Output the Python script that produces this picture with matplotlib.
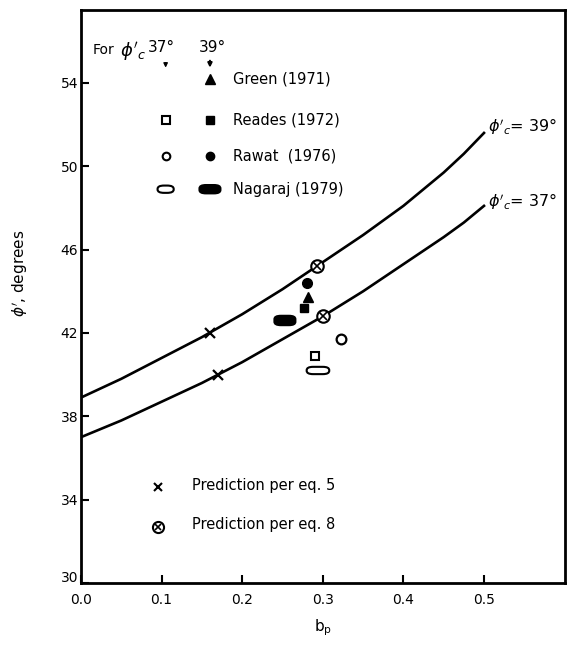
import matplotlib
matplotlib.use("Agg")
import matplotlib.pyplot as plt
import matplotlib.transforms as mtransforms
from matplotlib.patches import FancyBboxPatch

plt.rcParams['font.family'] = ['DejaVu Sans']
plt.rcParams['mathtext.fontset'] = 'dejavusans'

# Curves
b_curve = [0.0, 0.025, 0.05, 0.075, 0.1, 0.125, 0.15, 0.175, 0.2, 0.225, 0.25,
           0.275, 0.3, 0.325, 0.35, 0.375, 0.4, 0.425, 0.45, 0.475, 0.5]
phi_39 = [38.9, 39.35, 39.8, 40.3, 40.8, 41.3, 41.8, 42.35, 42.9, 43.5, 44.1,
          44.75, 45.4, 46.05, 46.7, 47.4, 48.1, 48.9, 49.7, 50.6, 51.6]
phi_37 = [37.0, 37.4, 37.8, 38.25, 38.7, 39.15, 39.6, 40.1, 40.6, 41.15, 41.7,
          42.25, 42.8, 43.4, 44.0, 44.65, 45.3, 45.95, 46.6, 47.3, 48.1]

# Predictions
eq5_b = [0.16, 0.17]
eq5_phi = [42.0, 40.0]
eq8_b = [0.293, 0.300]
eq8_phi = [45.2, 42.8]

# Measured data (phi_c = 39 filled, phi_c = 37 open)
green_39 = (0.282, 43.75)
reades_39 = (0.277, 43.2)
reades_37 = (0.290, 40.9)
rawat_39 = (0.280, 44.4)
rawat_37 = (0.323, 41.7)
nagaraj_39 = (0.253, 42.6)
nagaraj_37 = (0.294, 40.2)

xticks = [0.0, 0.1, 0.2, 0.3, 0.4, 0.5]
xtick_labels = ["0.0", "0.1", "0.2", "0.3", "0.4", "0.5"]
yticks = [30, 34, 38, 42, 46, 50, 54]

fig = plt.figure(figsize=(5.68, 6.46), dpi=100)
ax = fig.add_axes([0.1426, 0.0975, 0.8521, 0.887])
ax.set_xlim(0, 0.6005)
ax.set_ylim(30, 57.5)

lw = 1.9
ax.plot(b_curve, phi_39, color='black', lw=lw, solid_joinstyle='round')
ax.plot(b_curve, phi_37, color='black', lw=lw, solid_joinstyle='round')

ax.plot(eq5_b, eq5_phi, 'x', color='black', ms=7, mew=1.6)
ax.plot(eq8_b, eq8_phi, 'o', mfc='white', mec='black', ms=9, mew=1.5)
ax.plot(eq8_b, eq8_phi, 'x', color='black', ms=6, mew=1.2)

ax.plot(*green_39, '^', color='black', ms=7)
ax.plot(*reades_39, 's', color='black', ms=6)
ax.plot(*reades_37, 's', mfc='white', mec='black', ms=6, mew=1.5)
ax.plot(*rawat_39, 'o', color='black', ms=7)
ax.plot(*rawat_37, 'o', mfc='white', mec='black', ms=7, mew=1.6)

def oval_e(center, w, h, filled, axis):
    e = FancyBboxPatch((center[0] - w / 2, center[1] - h / 2), w, h,
                       boxstyle="round,pad=0,rounding_size=0.008",
                       mutation_aspect=20, transform=axis.transData,
                       facecolor='black' if filled else 'white',
                       edgecolor='black', lw=1.5, zorder=3)
    axis.add_patch(e)

oval_e(nagaraj_39, 0.026, 0.45, True, ax)
oval_e(nagaraj_37, 0.028, 0.35, False, ax)

# Legend block (top-left)
ax.text(0.014, 55.6, "For", fontsize=10, va='center', ha='left')
ax.text(0.048, 55.5, r"$\phi'_c$", fontsize=13, va='center', ha='left')
ax.text(0.100, 55.7, "37°", fontsize=11, va='center', ha='center')
ax.text(0.163, 55.7, "39°", fontsize=11, va='center', ha='center')
ax.annotate("", xy=(0.105, 54.6), xytext=(0.105, 55.1),
            arrowprops=dict(arrowstyle='-|>', color='black', lw=1, mutation_scale=6))
ax.annotate("", xy=(0.160, 54.6), xytext=(0.160, 55.2),
            arrowprops=dict(arrowstyle='-|>', color='black', lw=1.5, mutation_scale=6))

lx37, lx39, ltx = 0.105, 0.160, 0.188
ax.plot(lx39, 54.2, '^', color='black', ms=7)
ax.text(ltx, 54.2, "Green (1971)", fontsize=10.5, va='center')
ax.plot(lx37, 52.2, 's', mfc='white', mec='black', ms=5.5, mew=1.5)
ax.plot(lx39, 52.2, 's', color='black', ms=5.5)
ax.text(ltx, 52.2, "Reades (1972)", fontsize=10.5, va='center')
ax.plot(lx37, 50.5, 'o', mfc='white', mec='black', ms=5.5, mew=1.5)
ax.plot(lx39, 50.5, 'o', color='black', ms=6)
ax.text(ltx, 50.5, "Rawat  (1976)", fontsize=10.5, va='center')
oval_e((lx37, 48.9), 0.020, 0.35, False, ax)
oval_e((lx39, 48.9), 0.026, 0.40, True, ax)
ax.text(ltx, 48.9, "Nagaraj (1979)", fontsize=10.5, va='center')

# Lower legend
ax.plot(0.095, 34.6, 'x', color='black', ms=6, mew=1.5)
ax.text(0.138, 34.7, "Prediction per eq. 5", fontsize=10.5, va='center')
ax.plot(0.095, 32.7, 'o', mfc='white', mec='black', ms=8, mew=1.5)
ax.plot(0.095, 32.7, 'x', color='black', ms=5, mew=1.2)
ax.text(0.138, 32.8, "Prediction per eq. 8", fontsize=10.5, va='center')

# Curve labels
ax.text(0.505, 51.9, r"$\phi'_c$= 39°", fontsize=11.5, va='center', ha='left')
ax.text(0.505, 48.3, r"$\phi'_c$= 37°", fontsize=11.5, va='center', ha='left')

ax.set_xticks(xticks)
ax.set_xticklabels(xtick_labels)
ax.set_yticks(yticks)
ax.tick_params(direction='in', length=6, width=1.5, labelsize=10)
ax.tick_params(axis='x', pad=7)
ax.tick_params(axis='y', pad=2)
for s in ax.spines.values():
    s.set_linewidth(2)

# lift the "30" label slightly, as in the reference
fig.canvas.draw()
ylabels = ax.get_yticklabels()
ylabels[0].set_transform(ylabels[0].get_transform() +
                         mtransforms.ScaledTranslation(0, 5 / 72, fig.dpi_scale_trans))

ax.set_xlabel(r"b$_\mathregular{p}$", fontsize=11, labelpad=8)
ax.set_ylabel(r"$\phi'$, degrees", fontsize=11)
ax.yaxis.set_label_coords(-0.105, 0.54)

fig.savefig("out.png", dpi=100)
